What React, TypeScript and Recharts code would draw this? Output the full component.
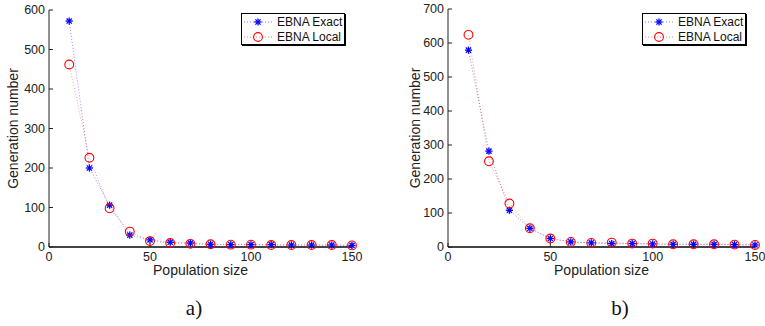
import React from 'react';
import { LineChart, Line, XAxis, YAxis, Legend } from 'recharts';

const populationSizes = [10, 20, 30, 40, 50, 60, 70, 80, 90, 100, 110, 120, 130, 140, 150];

const exactA = [572, 200, 106, 30, 18, 12, 10, 7, 6, 6, 6, 5, 5, 5, 4];
const localA = [462, 226, 98, 39, 15, 10, 8, 7, 6, 6, 5, 5, 5, 5, 4];

const exactB = [579, 282, 108, 55, 25, 15, 12, 10, 10, 9, 8, 8, 8, 7, 6];
const localB = [624, 252, 128, 55, 25, 15, 12, 13, 10, 10, 8, 8, 8, 7, 6];

const xTicks = [0, 50, 100, 150];
const yTicksA = [0, 100, 200, 300, 400, 500, 600];
const yTicksB = [0, 100, 200, 300, 400, 500, 600, 700];

const FONT = '"Liberation Sans", Arial, Helvetica, sans-serif';
const BLUE = '#0000ff';
const RED = '#ff0000';

const buildRows = (exact: number[], local: number[]) =>
  populationSizes.map((p, i) => ({ pop: p, exact: exact[i], local: local[i] }));

const Star = (props: any) => {
  const { cx, cy } = props;
  if (cx == null || cy == null) return null;
  const r = 3.6;
  const d = r * 0.72;
  return (
    <g stroke={BLUE} strokeWidth={1.3}>
      <line x1={cx - r} y1={cy} x2={cx + r} y2={cy} />
      <line x1={cx} y1={cy - r} x2={cx} y2={cy + r} />
      <line x1={cx - d} y1={cy - d} x2={cx + d} y2={cy + d} />
      <line x1={cx - d} y1={cy + d} x2={cx + d} y2={cy - d} />
    </g>
  );
};

const Ring = (props: any) => {
  const { cx, cy } = props;
  if (cx == null || cy == null) return null;
  return <circle cx={cx} cy={cy} r={4.4} fill="none" stroke={RED} strokeWidth={1.1} />;
};

const LegendBox = () => {
  const row = (color: string, marker: React.ReactNode, text: string) => (
    <div style={{ display: 'flex', alignItems: 'center', height: 15, whiteSpace: 'nowrap' }}>
      <svg width={30} height={14} style={{ flex: 'none' }}>
        <line x1={1} y1={7} x2={29} y2={7} stroke={color} strokeDasharray="1 2" strokeOpacity={0.5} />
        {marker}
      </svg>
      <span style={{ fontFamily: FONT, fontSize: 12, color: '#111', marginLeft: 4 }}>{text}</span>
    </div>
  );
  return (
    <div
      style={{
        border: '1px solid #000',
        boxShadow: '1px 1px 0 #000',
        background: '#fff',
        padding: '0px 0 0px 1px',
        width: 104,
        height: 32,
        boxSizing: 'border-box',
      }}
    >
      {row(BLUE, <Star cx={15} cy={7} />, 'EBNA Exact')}
      {row(RED, <Ring cx={15} cy={7} />, 'EBNA Local')}
    </div>
  );
};

interface PanelProps {
  left: number;
  width: number;
  top: number;
  rightMargin: number;
  exact: number[];
  local: number[];
  yMax: number;
  yTicks: number[];
  titleX: number;
  legendLeft: number;
  caption: string;
  captionX: number;
}

const Panel: React.FC<PanelProps> = ({
  left, width, top, rightMargin, exact, local, yMax, yTicks, titleX, legendLeft, caption, captionX,
}) => {
  const rows = buildRows(exact, local);
  const tick = { fill: '#222', fontSize: 12.5, fontFamily: FONT };
  return (
    <>
      <div style={{ position: 'absolute', left, top: 0 }}>
        <LineChart
          width={width}
          height={326}
          data={rows}
          margin={{ top, right: rightMargin, left: 0, bottom: 49 }}
        >
          <XAxis
            dataKey="pop"
            type="number"
            domain={[0, 150]}
            ticks={xTicks}
            height={30}
            tick={tick}
            tickSize={-4}
            tickMargin={9}
            tickLine={{ stroke: '#222' }}
            axisLine={{ stroke: '#444', strokeWidth: 2 }}
            label={(p: any) => {
              const vb = p.viewBox;
              return (
                <text
                  x={vb.x + vb.width / 2}
                  y={270}
                  textAnchor="middle"
                  dominantBaseline="central"
                  fontFamily={FONT}
                  fontSize={14}
                  fill="#222"
                >
                  Population size
                </text>
              );
            }}
          />
          <YAxis
            type="number"
            domain={[0, yMax]}
            ticks={yTicks}
            width={49}
            tick={tick}
            tickSize={-4}
            tickMargin={8}
            tickLine={{ stroke: '#222' }}
            axisLine={{ stroke: '#222' }}
            label={(p: any) => {
              const vb = p.viewBox;
              const cy = vb.y + vb.height / 2;
              return (
                <text
                  x={titleX}
                  y={cy}
                  transform={`rotate(-90 ${titleX} ${cy})`}
                  textAnchor="middle"
                  dominantBaseline="central"
                  fontFamily={FONT}
                  fontSize={14}
                  fill="#222"
                >
                  Generation number
                </text>
              );
            }}
          />
          <Legend
            verticalAlign="middle"
            layout="horizontal"
            content={() => <LegendBox />}
            wrapperStyle={{ top: 13, left: legendLeft, width: 106 }}
          />
          <Line
            dataKey="exact"
            name="EBNA Exact"
            stroke={BLUE}
            strokeWidth={1}
            strokeOpacity={0.45}
            strokeDasharray="1 2"
            dot={<Star />}
            activeDot={false}
            isAnimationActive={false}
          />
          <Line
            dataKey="local"
            name="EBNA Local"
            stroke={RED}
            strokeWidth={1}
            strokeOpacity={0.4}
            strokeDasharray="1 2"
            dot={<Ring />}
            activeDot={false}
            isAnimationActive={false}
          />
        </LineChart>
      </div>
      <div
        style={{
          position: 'absolute',
          left: captionX - 20,
          width: 40,
          top: 296,
          textAlign: 'center',
          fontFamily: '"Liberation Serif", "DejaVu Serif", serif',
          fontSize: 21,
          color: '#111',
        }}
      >
        {caption}
      </div>
    </>
  );
};

export default function App() {
  return (
    <div style={{ position: 'absolute', left: 0, top: 0, width: 765, height: 326, background: '#fff', overflow: 'hidden' }}>
      <Panel
        left={0}
        width={380}
        top={10}
        rightMargin={28}
        exact={exactA}
        local={localA}
        yMax={600}
        yTicks={yTicksA}
        titleX={13}
        legendLeft={241}
        caption="a)"
        captionX={194}
      />
      <Panel
        left={399}
        width={366}
        top={9}
        rightMargin={10}
        exact={exactB}
        local={localB}
        yMax={700}
        yTicks={yTicksB}
        titleX={16}
        legendLeft={243}
        caption="b)"
        captionX={620}
      />
    </div>
  );
}
